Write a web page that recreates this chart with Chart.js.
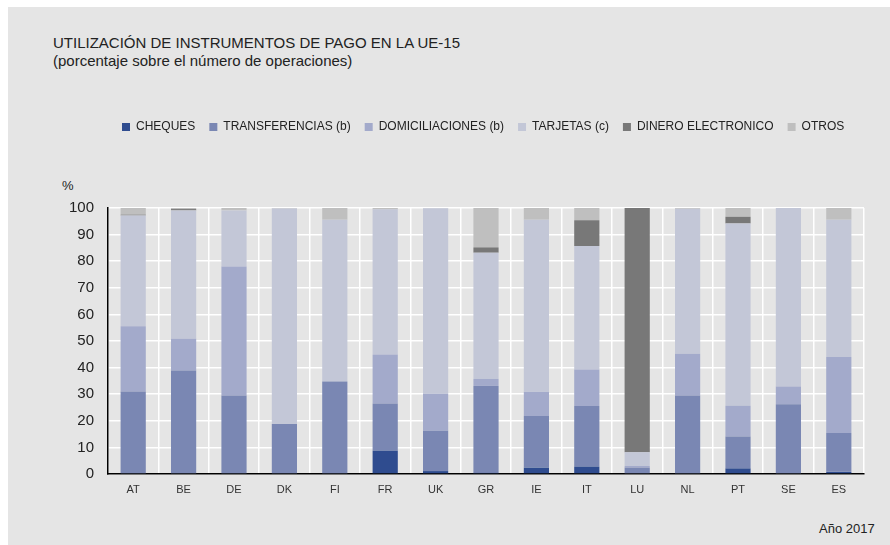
<!DOCTYPE html>
<html>
<head>
<meta charset="utf-8">
<script src="https://cdn.jsdelivr.net/npm/chart.js@4/dist/chart.umd.min.js"></script>
<style>
  body { margin: 0; background: #fff; font-family: "Liberation Sans", Arial, sans-serif; }
  #panel { position: absolute; left: 8px; top: 7px; width: 882px; height: 538px; background: #e5e5e5; }
  #chart { position: absolute; left: 0; top: 0; }
  .txt { position: absolute; color: #222; white-space: nowrap; }
</style>
</head>
<body>
<div id="panel">
  <div class="txt" style="left:45px; top:27px; font-size:15px;">UTILIZACIÓN DE INSTRUMENTOS DE PAGO EN LA UE-15</div>
  <div class="txt" style="left:45px; top:45px; font-size:15px;">(porcentaje sobre el número de operaciones)</div>
  <div class="txt" style="left:54px; top:171px; font-size:13px;">%</div>
  <div class="txt" style="left:811px; top:514px; font-size:13px;">Año 2017</div>
  <canvas id="chart" width="882" height="538"></canvas>
</div>
<script>
// Countries and payment instrument shares (% of operations), 2017
const countries = ['AT', 'BE', 'DE', 'DK', 'FI', 'FR', 'UK', 'GR', 'IE', 'IT', 'LU', 'NL', 'PT', 'SE', 'ES'];
const cheques        = [0, 0, 0, 0, 0, 8.8, 1.1, 0.4, 2.4, 2.8, 0, 0, 2.1, 0, 0.8];
const transferencias = [31.0, 38.9, 29.5, 18.8, 34.8, 17.7, 15.2, 32.7, 19.4, 22.8, 2.4, 29.5, 12.0, 26.2, 14.6];
const domiciliaciones = [24.5, 12.0, 48.5, 0, 0, 18.4, 13.9, 2.7, 9.1, 13.7, 0.6, 15.7, 11.5, 6.7, 28.6];
const tarjetas       = [41.7, 48.2, 21.1, 81.0, 60.8, 54.6, 69.7, 47.4, 64.7, 46.4, 5.2, 54.5, 68.6, 67.1, 51.6];
const dineroElectr   = [0.3, 0.5, 0, 0, 0, 0, 0, 2.0, 0, 9.7, 91.8, 0, 2.5, 0, 0];
const otros          = [2.5, 0.4, 0.9, 0.2, 4.4, 0.5, 0.1, 14.8, 4.4, 4.6, 0, 0.3, 3.3, 0, 4.4];
const yTicks = [0, 10, 20, 30, 40, 50, 60, 70, 80, 90, 100];

const series = [
  { label: 'CHEQUES', data: cheques, color: '#2f4c8f' },
  { label: 'TRANSFERENCIAS (b)', data: transferencias, color: '#7a87b3' },
  { label: 'DOMICILIACIONES (b)', data: domiciliaciones, color: '#a3aacb' },
  { label: 'TARJETAS (c)', data: tarjetas, color: '#c3c7d7' },
  { label: 'DINERO ELECTRONICO', data: dineroElectr, color: '#787878' },
  { label: 'OTROS', data: otros, color: '#bfbfbf' }
];

// push the plot down below the legend
const legendGap = {
  id: 'legendGap',
  beforeInit(chart) {
    const fit = chart.legend.fit;
    chart.legend.fit = function () {
      fit.bind(chart.legend)();
      this.height += 65;
    };
  }
};

const ctx = document.getElementById('chart').getContext('2d');
new Chart(ctx, {
  type: 'bar',
  data: {
    labels: countries,
    datasets: series.map(s => ({
      label: s.label,
      data: s.data,
      backgroundColor: s.color,
      borderWidth: 0,
      categoryPercentage: 1,
      barPercentage: 0.5
    }))
  },
  options: {
    responsive: false,
    animation: false,
    layout: { padding: { top: 100, left: 54, right: 26, bottom: 43 } },
    plugins: {
      tooltip: { enabled: false },
      legend: {
        position: 'top',
        align: 'start',
        fullSize: false,
        labels: {
          boxWidth: 8,
          boxHeight: 8,
          padding: 14,
          color: '#222',
          font: { family: '"Liberation Sans", Arial, sans-serif', size: 12 }
        }
      }
    },
    scales: {
      x: {
        stacked: true,
        grid: { color: '#ffffff', lineWidth: 1.5, drawTicks: false, offset: true },
        border: { color: '#000', width: 1.5 },
        ticks: { color: '#333', padding: 9, font: { family: '"Liberation Sans", Arial, sans-serif', size: 11 } },
        afterFit(scale) { scale.height = 28; }
      },
      y: {
        stacked: true,
        min: 0,
        max: 100,
        afterBuildTicks(scale) { scale.ticks = yTicks.map(v => ({ value: v })); },
        grid: { color: '#ffffff', lineWidth: 1.5, drawTicks: false },
        border: { color: '#000', width: 1.5 },
        ticks: { color: '#222', padding: 14, font: { family: '"Liberation Sans", Arial, sans-serif', size: 15 } },
        afterFit(scale) { scale.width = 46; }
      }
    }
  },
  plugins: [legendGap]
});
</script>
</body>
</html>
